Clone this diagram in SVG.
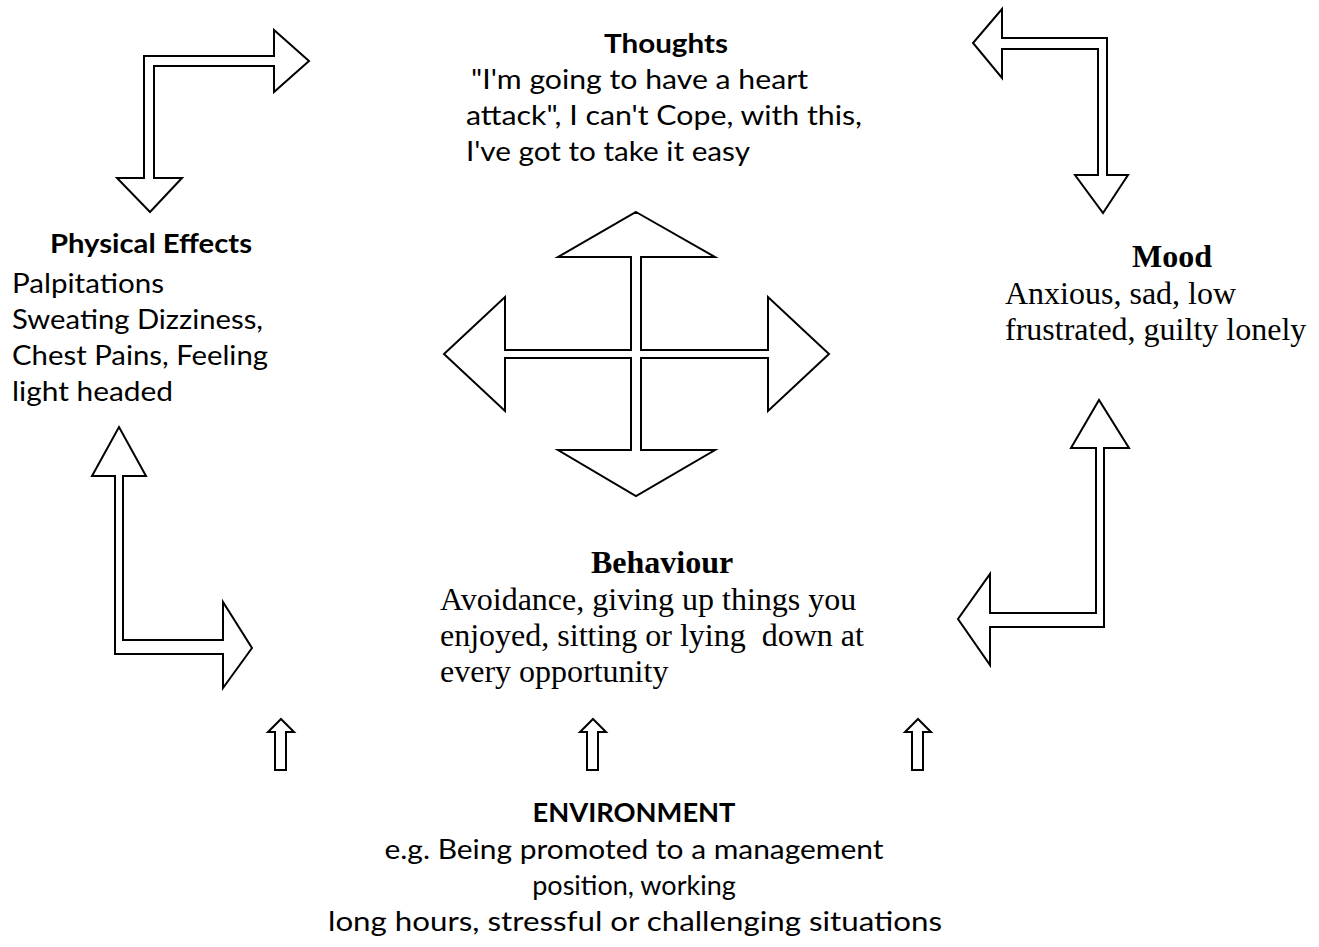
<svg xmlns="http://www.w3.org/2000/svg" width="1319" height="947" viewBox="0 0 1319 947">
<style>
.sans{font-family:Lato,"Open Sans","Liberation Sans",sans-serif;font-size:27px;fill:#000}
.b{font-weight:bold}
.mid{text-anchor:middle}
.serif{font-family:"Liberation Serif","Times New Roman",serif;font-size:32px;fill:#000}
.arr{fill:#fff;stroke:#000;stroke-width:2;stroke-linejoin:miter}
</style>
<rect width="1319" height="947" fill="#fff"/>
<g id="connectors">
<path class="arr" d="M144,178 L144,56 L274,56 L274,30 L309,61 L274,92 L274,66 L154,66 L154,178 L182,178 L150,212 L117,178 Z"/>
<path class="arr" d="M1002,38 L1107,38 L1107,175 L1128,175 L1103,213 L1075,175 L1098,175 L1098,49 L1002,49 L1002,78 L973,43 L1002,9 Z"/>
<path class="arr" d="M636,212 L715,257 L641,257 L641,350 L768,350 L768,297 L829,354 L768,411 L768,358 L641,358 L641,450 L715,450 L636,496 L558,450 L631,450 L631,358 L505,358 L505,411 L444,354 L505,297 L505,350 L631,350 L631,257 L558,257 Z"/>
<path class="arr" d="M115,476 L92,476 L119,427 L146,476 L123,476 L123,640 L223,640 L223,602 L252,648 L223,688 L223,654 L115,654 Z"/>
<path class="arr" d="M1096,448 L1071,448 L1099,400 L1129,448 L1104,448 L1104,627 L990,627 L990,665 L958,619 L990,574 L990,613 L1096,613 Z"/>
<path class="arr" d="M281,719 L294,732 L286,732 L286,770 L275,770 L275,732 L268,732 Z"/>
<path class="arr" d="M593,719 L606,732 L598,732 L598,770 L587,770 L587,732 L580,732 Z"/>
<path class="arr" d="M918,719 L931,732 L923,732 L923,770 L912,770 L912,732 L905,732 Z"/>
</g>
<g id="thoughts">
<text class="sans b" x="604" y="53" textLength="124" lengthAdjust="spacingAndGlyphs">Thoughts</text>
<text class="sans" x="471" y="89" textLength="337" lengthAdjust="spacingAndGlyphs">"I'm going to have a heart</text>
<text class="sans" x="466" y="125" textLength="396" lengthAdjust="spacingAndGlyphs">attack", I can't Cope, with this,</text>
<text class="sans" x="466" y="161" textLength="284" lengthAdjust="spacingAndGlyphs">I've got to take it easy</text>
</g>
<g id="physical-effects">
<text class="sans b" x="50" y="253" textLength="202" lengthAdjust="spacingAndGlyphs">Physical Effects</text>
<text class="sans" x="12" y="293" textLength="152" lengthAdjust="spacingAndGlyphs">Palpitations</text>
<text class="sans" x="12" y="329" textLength="251" lengthAdjust="spacingAndGlyphs">Sweating Dizziness,</text>
<text class="sans" x="12" y="365" textLength="256" lengthAdjust="spacingAndGlyphs">Chest Pains, Feeling</text>
<text class="sans" x="12" y="401" textLength="161" lengthAdjust="spacingAndGlyphs">light headed</text>
</g>
<g id="mood">
<text class="serif b" x="1132" y="267">Mood</text>
<text class="serif" x="1005" y="304">Anxious, sad, low</text>
<text class="serif" x="1005" y="340">frustrated, guilty lonely</text>
</g>
<g id="behaviour">
<text class="serif b" x="591" y="573">Behaviour</text>
<text class="serif" x="440" y="610">Avoidance, giving up things you</text>
<text class="serif" x="440" y="646" xml:space="preserve">enjoyed, sitting or lying  down at</text>
<text class="serif" x="440" y="682">every opportunity</text>
</g>
<g id="environment">
<text class="sans b mid" x="634" y="822" textLength="203" lengthAdjust="spacingAndGlyphs">ENVIRONMENT</text>
<text class="sans mid" x="634" y="859" textLength="499" lengthAdjust="spacingAndGlyphs">e.g. Being promoted to a management</text>
<text class="sans mid" x="634" y="895">position, working</text>
<text class="sans mid" x="635" y="931" textLength="614" lengthAdjust="spacingAndGlyphs">long hours, stressful or challenging situations</text>
</g>
</svg>
